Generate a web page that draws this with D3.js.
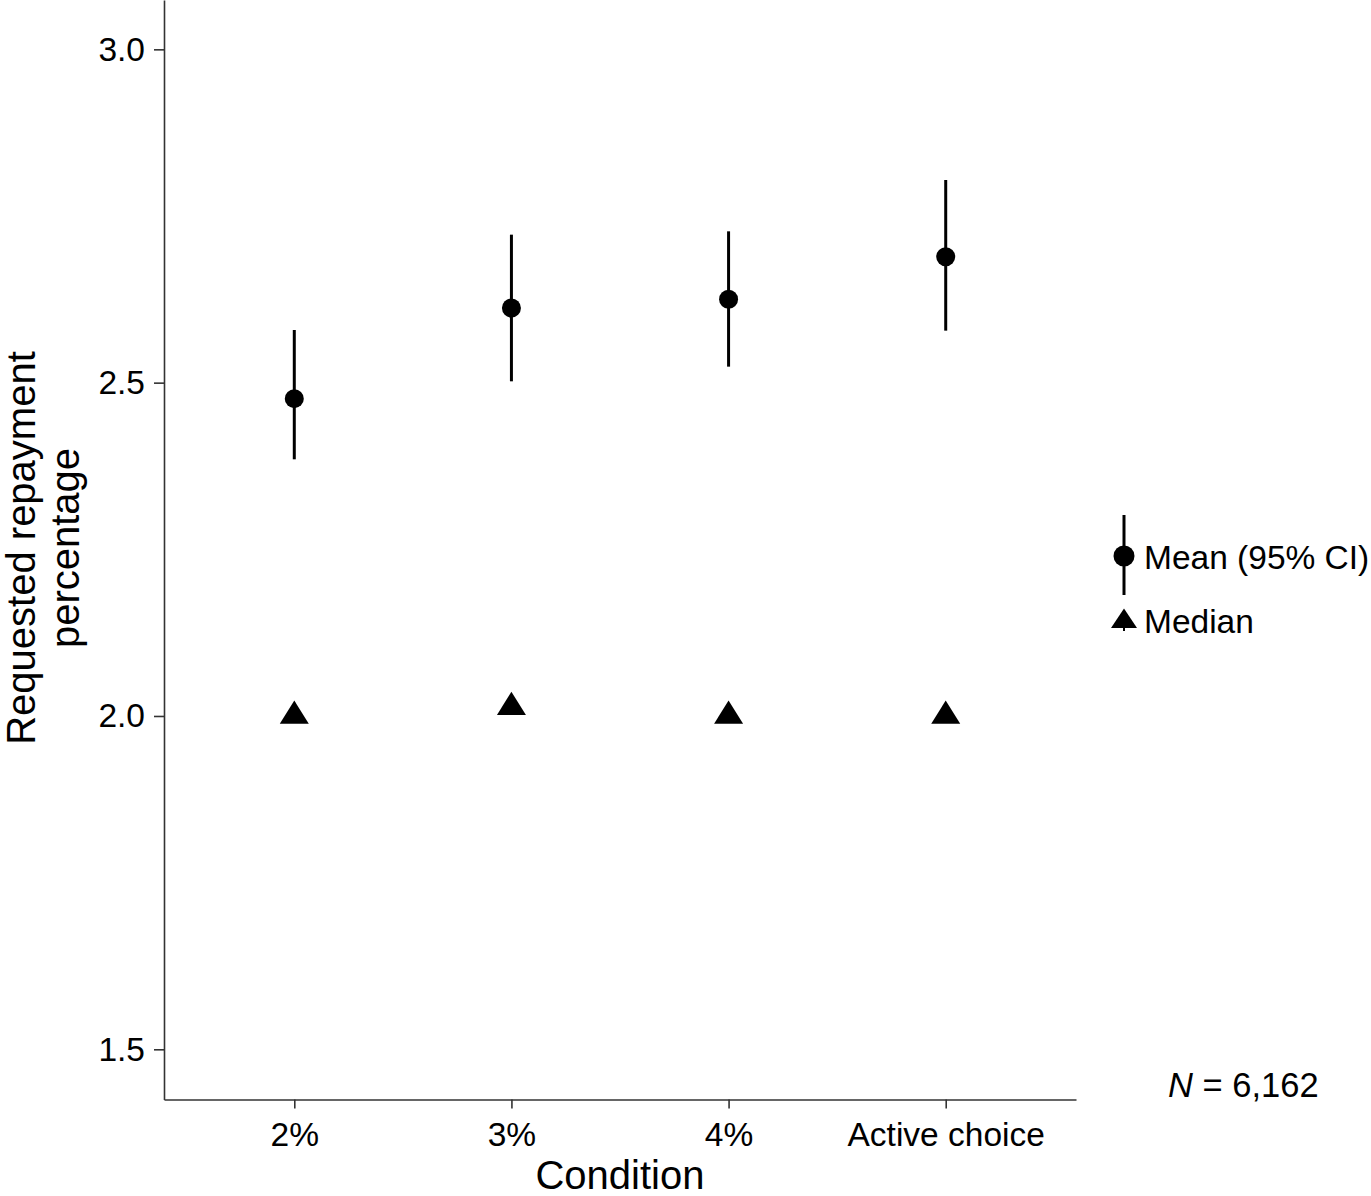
<!DOCTYPE html>
<html>
<head>
<meta charset="utf-8">
<script src="https://cdn.jsdelivr.net/npm/d3@7"></script>
<style>
  html, body { margin: 0; padding: 0; background: #fff; overflow: hidden; }
  svg { display: block; }
  text { font-family: "Liberation Sans", Arial, sans-serif; fill: #000; }
</style>
</head>
<body>
<svg id="chart" width="1371" height="1196"></svg>
<script>
// Requested repayment percentage by default condition
const conditions = ["2%", "3%", "4%", "Active choice"];
const meanValues = [2.476, 2.612, 2.625, 2.689];
const ciLower = [2.385, 2.502, 2.524, 2.578];
const ciUpper = [2.579, 2.722, 2.727, 2.804];
const medianValues = [2.0, 2.013, 2.0, 2.0];
const yTicks = [1.5, 2.0, 2.5, 3.0];
const legendLabels = ["Mean (95% CI)", "Median"];
const sampleNote = "6,162";

(function () {
  const svg = d3.select("#chart");
  const plotLeft = 164, plotRight = 1076, plotTop = 0, plotBottom = 1099.5;

  const x = d3.scalePoint().domain(conditions).range([plotLeft, plotRight]).padding(0.6);
  const y = d3.scaleLinear().domain([1.4247, 3.074]).range([plotBottom, plotTop]);

  const axisColor = "#333";
  const font = "'Liberation Sans', Arial, sans-serif";

  // y axis
  const gy = svg.append("g")
    .attr("transform", `translate(${plotLeft},0)`)
    .call(d3.axisLeft(y).tickValues(yTicks).tickFormat(d3.format(".1f"))
      .tickSize(10).tickSizeOuter(0).tickPadding(9));
  gy.select(".domain").attr("stroke", axisColor).attr("stroke-width", 1.6);
  gy.selectAll(".tick line").attr("stroke", axisColor).attr("stroke-width", 1.6);
  gy.selectAll(".tick text").attr("font-size", 33.5).attr("fill", "#000").style("font-family", font);

  // x axis
  const gx = svg.append("g")
    .attr("transform", `translate(0,${plotBottom})`)
    .call(d3.axisBottom(x).tickSize(9).tickSizeOuter(0).tickPadding(14));
  gx.select(".domain").attr("stroke", axisColor).attr("stroke-width", 1.6);
  gx.selectAll(".tick line").attr("stroke", axisColor).attr("stroke-width", 1.6);
  gx.selectAll(".tick text").attr("font-size", 33.5).attr("fill", "#000").style("font-family", font);

  // axis titles
  svg.append("text")
    .attr("x", (plotLeft + plotRight) / 2).attr("y", 1189)
    .attr("text-anchor", "middle").attr("font-size", 40)
    .text("Condition");

  const yTitle = ["Requested repayment", "percentage"];
  svg.selectAll(".ytitle").data(yTitle).enter().append("text")
    .attr("class", "ytitle")
    .attr("transform", (d, i) => `translate(${35 + i * 44},548) rotate(-90)`)
    .attr("text-anchor", "middle").attr("font-size", 40)
    .text(d => d);

  // triangle path centred on the data point
  function triPath(r, w) {
    const hw = w / 2;
    return `M0,${-r}L${hw},${r / 2}L${-hw},${r / 2}Z`;
  }

  const rows = conditions.map((c, i) => ({
    c, mean: meanValues[i], lo: ciLower[i], hi: ciUpper[i], med: medianValues[i]
  }));

  // confidence intervals
  svg.selectAll(".ci").data(rows).enter().append("line")
    .attr("class", "ci")
    .attr("x1", d => x(d.c)).attr("x2", d => x(d.c))
    .attr("y1", d => y(d.hi)).attr("y2", d => y(d.lo))
    .attr("stroke", "#000").attr("stroke-width", 3);

  // means
  svg.selectAll(".mean").data(rows).enter().append("circle")
    .attr("class", "mean")
    .attr("cx", d => x(d.c)).attr("cy", d => y(d.mean))
    .attr("r", 9.5).attr("fill", "#000");

  // medians
  svg.selectAll(".median").data(rows).enter().append("path")
    .attr("class", "median")
    .attr("transform", d => `translate(${x(d.c)},${y(d.med)})`)
    .attr("d", triPath(15.5, 29))
    .attr("fill", "#000");

  // legend
  const lg = svg.append("g");
  lg.append("line").attr("x1", 1124).attr("x2", 1124).attr("y1", 515).attr("y2", 595)
    .attr("stroke", "#000").attr("stroke-width", 3);
  lg.append("circle").attr("cx", 1124).attr("cy", 556).attr("r", 10.5).attr("fill", "#000");
  lg.append("line").attr("x1", 1124).attr("x2", 1124).attr("y1", 620).attr("y2", 631)
    .attr("stroke", "#000").attr("stroke-width", 2);
  lg.append("path").attr("transform", "translate(1124,621.5)")
    .attr("d", triPath(13, 26)).attr("fill", "#000");
  lg.selectAll(".lgtext").data(legendLabels).enter().append("text")
    .attr("class", "lgtext")
    .attr("x", 1144).attr("y", (d, i) => 569 + i * 64)
    .attr("font-size", 33.5)
    .text(d => d);

  // sample size note
  const note = svg.append("text").attr("x", 1168).attr("y", 1097).attr("font-size", 34.5);
  note.append("tspan").attr("font-style", "italic").text("N");
  note.append("tspan").text(" = " + sampleNote);
})();
</script>
</body>
</html>
